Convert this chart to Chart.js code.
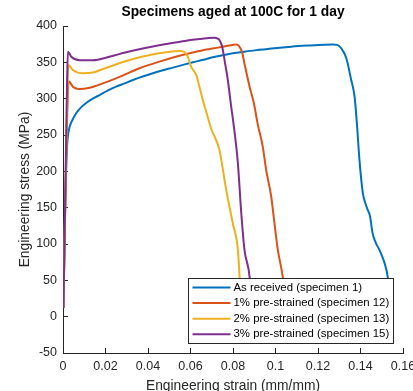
<!DOCTYPE html>
<html>
<head>
<meta charset="utf-8">
<script src="https://cdn.jsdelivr.net/npm/chart.js@4.4.1/dist/chart.umd.min.js"></script>
<style>
  html, body { margin: 0; padding: 0; background: #ffffff; }
  #wrap { width: 413px; height: 391px; }
</style>
</head>
<body>
<div id="wrap"><canvas id="chart" width="413" height="391"></canvas></div>
<script>
// Tensile curves: engineering strain (mm/mm) vs engineering stress (MPa)
const chartTitle = 'Specimens aged at 100C for 1 day';
const xAxisTitle = 'Engineering strain (mm/mm)';
const yAxisTitle = 'Engineering stress (MPa)';

const xTickValues = [0, 0.02, 0.04, 0.06, 0.08, 0.1, 0.12, 0.14, 0.16];
const xTickLabels = ['0', '0.02', '0.04', '0.06', '0.08', '0.1', '0.12', '0.14', '0.16'];
const yTickValues = [-50, 0, 50, 100, 150, 200, 250, 300, 350, 400];
const yTickLabels = ['-50', '0', '50', '100', '150', '200', '250', '300', '350', '400'];

const seriesLabels = [
  'As received (specimen 1)',
  '1% pre-strained (specimen 12)',
  '2% pre-strained (specimen 13)',
  '3% pre-strained (specimen 15)'
];

// As received (specimen 1)
const asReceivedStrain = [0.0002, 0.0010, 0.0016, 0.0021, 0.0031, 0.0045, 0.0062, 0.0085, 0.0109, 0.0140,
  0.0172, 0.0210, 0.0250, 0.0290, 0.0329, 0.0375, 0.0423, 0.0470, 0.0517, 0.0565,
  0.0611, 0.0660, 0.0705, 0.0755, 0.0799, 0.0860, 0.0917, 0.0995, 0.1074, 0.1150,
  0.1230, 0.1270, 0.1290, 0.1310, 0.1333, 0.1356, 0.1372, 0.1384, 0.1395, 0.1411,
  0.1423, 0.1434, 0.1445, 0.1456, 0.1470, 0.1489, 0.1502, 0.1513, 0.1528, 0.1535,
  0.1540, 0.1543];
const asReceivedStress = [12, 150, 215, 243, 261, 271, 280, 288, 294, 300,
  305, 311, 316.5, 321, 325.7, 330.5, 335, 339, 342.7, 346.5,
  350, 353.5, 357, 360, 362.4, 365, 367, 369.5, 371.5, 373,
  374.3, 374.5, 374, 369, 356, 326, 303, 262, 216, 170,
  156, 147, 138, 116, 103, 92, 83, 74, 55, 35,
  15, 3];

// 1% pre-strained (specimen 12)
const preStrain1Strain = [0.0002, 0.0012, 0.0020, 0.0027, 0.0046, 0.0078, 0.0125, 0.0187, 0.0266, 0.0360,
  0.0454, 0.0548, 0.0642, 0.0736, 0.0799, 0.0815, 0.0828, 0.0842, 0.0857, 0.0878,
  0.0898, 0.0917, 0.0940, 0.0956, 0.0980, 0.0995, 0.1011, 0.1034, 0.1045, 0.1052];
const preStrain1Stress = [12, 170, 280, 324, 316.5, 313.3, 315, 321, 330, 341.8,
  351, 359, 365.6, 370.6, 374, 374.5, 372.5, 364.7, 344, 316.5,
  294, 264, 234, 202, 165, 128.6, 92, 55, 28, 5];

// 2% pre-strained (specimen 13)
const preStrain2Strain = [0.0002, 0.0012, 0.0020, 0.0026, 0.0046, 0.0093, 0.0140, 0.0219, 0.0297, 0.0392,
  0.0486, 0.0548, 0.0572, 0.0587, 0.0603, 0.0627, 0.0642, 0.0658, 0.0674, 0.0697,
  0.0736, 0.0768, 0.0799, 0.0823, 0.0831, 0.0838, 0.0843];
const preStrain2Stress = [12, 180, 300, 346.4, 339.5, 335, 336, 344, 351.9, 359,
  363.8, 365.6, 364.2, 357.8, 344, 332.6, 316.5, 298, 282, 259,
  229.5, 174.4, 128.6, 92, 55, 25, 3];

// 3% pre-strained (specimen 15)
const preStrain3Strain = [0.0002, 0.0012, 0.0019, 0.0023, 0.0039, 0.0078, 0.0140, 0.0219, 0.0297, 0.0392,
  0.0486, 0.0580, 0.0674, 0.0713, 0.0736, 0.0749, 0.0762, 0.0776, 0.0791, 0.0804,
  0.0823, 0.0839, 0.0854, 0.0878, 0.0885, 0.0890];
const preStrain3Stress = [12, 190, 320, 364.7, 357.8, 353, 353, 357.8, 363.8, 370,
  375.2, 379.8, 383, 384, 380.7, 371.5, 350, 325, 290, 262,
  211, 142, 92, 55, 25, 3];

const seriesColors = ['#0072BD', '#D95319', '#EDB120', '#7E2F8E'];
const FONT = '"Liberation Sans", Arial, Helvetica, sans-serif';
const AXIS_COLOR = '#262626';

const toPoints = (xs, ys) => xs.map((x, i) => ({ x: x, y: ys[i] }));
const seriesData = [
  toPoints(asReceivedStrain, asReceivedStress),
  toPoints(preStrain1Strain, preStrain1Stress),
  toPoints(preStrain2Strain, preStrain2Stress),
  toPoints(preStrain3Strain, preStrain3Stress)
];

const datasets = seriesData.map((pts, i) => ({
  label: seriesLabels[i],
  data: pts,
  showLine: true,
  borderColor: seriesColors[i],
  backgroundColor: seriesColors[i],
  borderWidth: 2,
  pointRadius: 0,
  pointHoverRadius: 0,
  cubicInterpolationMode: 'monotone',
  fill: false,
  // later series sit on top of earlier ones
  order: seriesData.length - 1 - i
}));

// Boxed legend drawn in the lower-right corner of the plot area
const boxedLegend = {
  id: 'boxedLegend',
  afterDraw(chart) {
    const { ctx, chartArea } = chart;
    const sets = chart.data.datasets;
    const rowH = 15.6, padY = 9, lineLen = 38, padL = 4, gap = 3, padR = 4.5;
    ctx.save();
    ctx.font = '11.4px ' + FONT;
    const textW = Math.max(...sets.map(d => ctx.measureText(d.label).width));
    const w = padL + lineLen + gap + textW + padR;
    const h = padY * 2 + (sets.length - 1) * rowH;
    const right = Math.round(chartArea.right - 10) + 0.5;
    const bottom = Math.round(chartArea.bottom - 10) + 0.5;
    const left = right - Math.round(w);
    const top = bottom - Math.round(h);
    ctx.fillStyle = '#ffffff';
    ctx.fillRect(left, top, right - left, bottom - top);
    ctx.strokeStyle = AXIS_COLOR;
    ctx.lineWidth = 1;
    ctx.strokeRect(left, top, right - left, bottom - top);
    ctx.textBaseline = 'middle';
    ctx.textAlign = 'left';
    sets.forEach((d, i) => {
      const y = top + padY + i * rowH;
      ctx.strokeStyle = d.borderColor;
      ctx.lineWidth = 2;
      ctx.beginPath();
      ctx.moveTo(left + padL, y);
      ctx.lineTo(left + padL + lineLen, y);
      ctx.stroke();
      ctx.fillStyle = '#000000';
      ctx.fillText(d.label, left + padL + lineLen + gap, y);
    });
    ctx.restore();
  }
};

new Chart(document.getElementById('chart'), {
  type: 'scatter',
  data: { datasets: datasets },
  plugins: [boxedLegend],
  options: {
    responsive: false,
    devicePixelRatio: 1,
    animation: false,
    events: [],
    layout: { padding: { left: 0, right: 10, top: 0, bottom: 0 } },
    plugins: {
      legend: { display: false },
      tooltip: { enabled: false },
      title: {
        display: true,
        text: chartTitle,
        fullSize: false,
        color: '#000000',
        font: { family: FONT, size: 13.8, weight: 'bold', lineHeight: 1.2 },
        padding: { top: 4.3, bottom: 5.14 }
      }
    },
    scales: {
      x: {
        type: 'linear',
        position: 'bottom',
        min: xTickValues[0],
        max: xTickValues[xTickValues.length - 1],
        afterBuildTicks(scale) { scale.ticks = xTickValues.map(v => ({ value: v })); },
        afterFit(scale) { scale.height = 38; scale.paddingLeft = 0; scale.paddingRight = 0; },
        ticks: {
          autoSkip: false,
          maxRotation: 0,
          padding: 11.5,
          color: AXIS_COLOR,
          font: { family: FONT, size: 12.5 },
          callback: (value, index) => xTickLabels[index]
        },
        grid: { drawOnChartArea: false, drawTicks: true, tickLength: -5, color: AXIS_COLOR, lineWidth: 1 },
        border: { display: true, color: AXIS_COLOR, width: 1 },
        title: {
          display: true,
          text: xAxisTitle,
          color: AXIS_COLOR,
          font: { family: FONT, size: 13.8, lineHeight: 1.2 },
          padding: { top: 0, bottom: -3.6 }
        }
      },
      y: {
        type: 'linear',
        position: 'left',
        min: yTickValues[0],
        max: yTickValues[yTickValues.length - 1],
        afterBuildTicks(scale) { scale.ticks = yTickValues.map(v => ({ value: v })); },
        afterFit(scale) { scale.width = 63; scale.paddingTop = 0; scale.paddingBottom = 0; },
        ticks: {
          autoSkip: false,
          padding: 11,
          color: AXIS_COLOR,
          font: { family: FONT, size: 12.5 },
          callback: (value, index) => yTickLabels[index]
        },
        grid: { drawOnChartArea: false, drawTicks: true, tickLength: -5, color: AXIS_COLOR, lineWidth: 1 },
        border: { display: true, color: AXIS_COLOR, width: 1 },
        title: {
          display: true,
          text: yAxisTitle,
          color: AXIS_COLOR,
          font: { family: FONT, size: 13.8, lineHeight: 1.2 },
          padding: { top: 17, bottom: 0 }
        }
      }
    }
  }
});
</script>
</body>
</html>
